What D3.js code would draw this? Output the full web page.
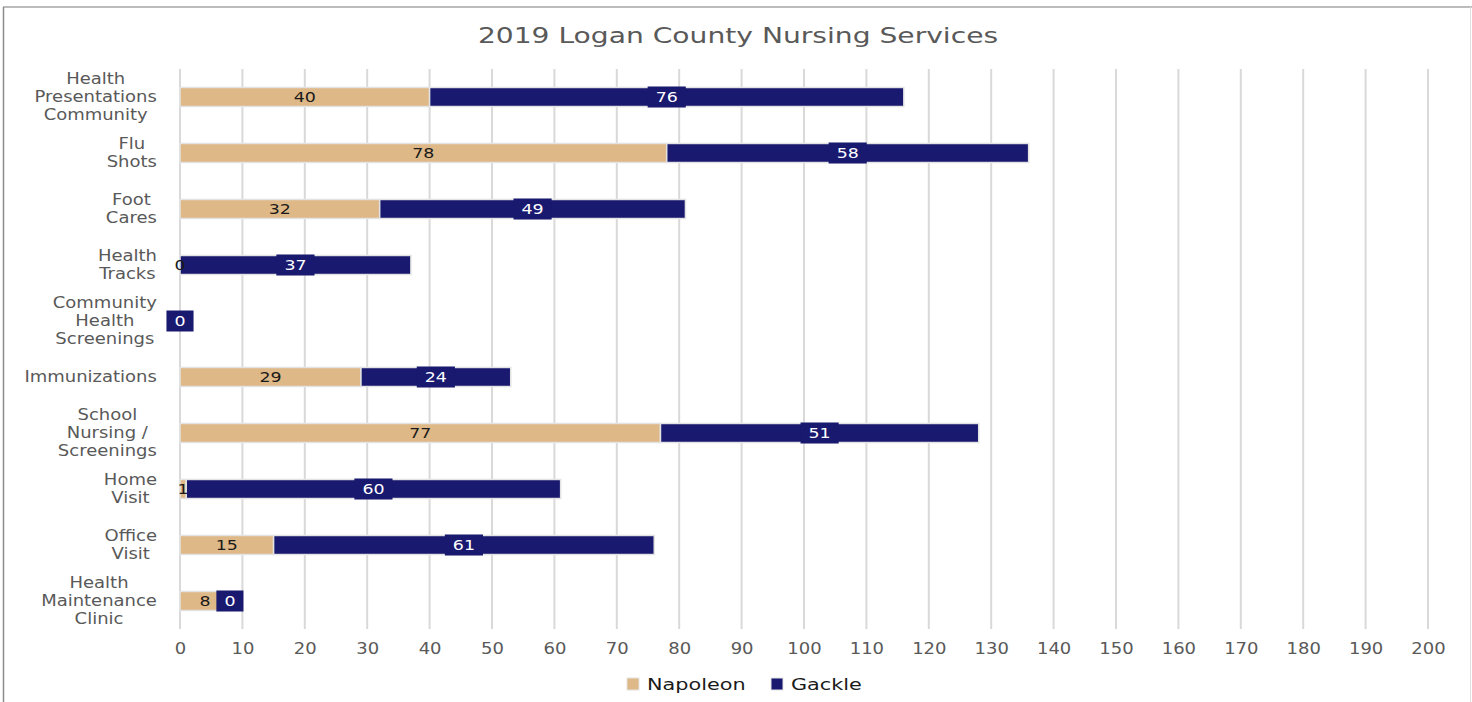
<!DOCTYPE html>
<html lang="en">
<head>
<meta charset="utf-8">
<script src="https://cdn.jsdelivr.net/npm/d3@7"></script>
<style>
  body { margin: 0; background: #fff; }
  text { font-family: "DejaVu Sans", sans-serif; }
</style>
</head>
<body>
<div id="my_dataviz"></div>
<script>
// categories, top to bottom
const categories = [
    "Health|Presentations|Community",
    "Flu|Shots",
    "Foot|Cares",
    "Health|Tracks",
    "Community|Health|Screenings",
    "Immunizations",
    "School|Nursing /|Screenings",
    "Home|Visit",
    "Office|Visit",
    "Health|Maintenance|Clinic"
];
const napoleon = [40, 78, 32, 0, 0, 29, 77, 1, 15, 8];
const gackle = [76, 58, 49, 37, 0, 24, 51, 60, 61, 0];
const xTicks = d3.range(0, 201, 10);
const seriesNames = ["Napoleon", "Gackle"];
const colors = ["#DEB887", "#191970"];

const W = 1472, H = 702;
const plot = { left: 180, right: 1428, top: 69, bottom: 629 };

// the original picture is stretched sideways, so text gets a horizontal scale
function stretch(sel, sx) {
    sel.each(function () {
        const t = d3.select(this);
        const px = +t.attr("x") || 0, py = +t.attr("y") || 0;
        t.attr("x", 0).attr("y", 0)
            .attr("transform", `translate(${px},${py}) scale(${sx},1)`);
    });
}

const svg = d3.select("#my_dataviz")
    .append("svg")
    .attr("width", W)
    .attr("height", H);

// frame
svg.append("line").attr("x1", 3).attr("x2", W).attr("y1", 7).attr("y2", 7)
    .attr("stroke", "#a6a6a6").attr("stroke-width", 1.5);
svg.append("line").attr("x1", 3.5).attr("x2", 3.5).attr("y1", 7).attr("y2", H)
    .attr("stroke", "#8c8c8c").attr("stroke-width", 1.5);
svg.append("line").attr("x1", 1470.5).attr("x2", 1470.5).attr("y1", 7).attr("y2", H)
    .attr("stroke", "#e0e0e0").attr("stroke-width", 1);

const x = d3.scaleLinear().domain([0, 200]).range([plot.left, plot.right]);
const y = d3.scaleBand().domain(d3.range(categories.length))
    .range([plot.top, plot.bottom]).paddingInner(0.66).paddingOuter(0.33);

// gridlines
svg.append("g")
    .selectAll("line")
    .data(xTicks)
    .join("line")
    .attr("x1", d => x(d)).attr("x2", d => x(d))
    .attr("y1", plot.top).attr("y2", plot.bottom)
    .attr("stroke", "#d9d9d9")
    .attr("stroke-width", 2);

// x axis labels
const xAxis = svg.append("g")
    .attr("transform", `translate(0,${plot.bottom})`)
    .call(d3.axisBottom(x).tickValues(xTicks).tickSize(0).tickPadding(14));
xAxis.select(".domain").remove();
xAxis.selectAll("text")
    .style("font-family", "DejaVu Sans")
    .style("font-size", "15px")
    .attr("fill", "#595959")
    .attr("transform", "scale(1.2,1)");

// category labels
const catScale = 1.2;
const catG = svg.append("g");
categories.forEach((c, i) => {
    const lines = c.split("|");
    const t = catG.append("text")
        .attr("text-anchor", "middle")
        .style("font-size", "15px")
        .attr("fill", "#595959");
    lines.forEach((ln, j) => {
        t.append("tspan").text(ln).attr("x", 0)
            .attr("y", y(i) + y.bandwidth() / 2 + 5 + (j - (lines.length - 1) / 2) * 18);
    });
    const w = t.node().getBBox().width * catScale;
    t.attr("transform", `translate(${157 - w / 2},0) scale(${catScale},1)`);
});

// stacked bars
const rows = categories.map((c, i) => ({ i, n: napoleon[i], g: gackle[i] }));
const barG = svg.append("g");
barG.selectAll("rect.nap")
    .data(rows)
    .join("rect")
    .attr("class", "nap")
    .attr("x", d => x(0))
    .attr("y", d => y(d.i))
    .attr("width", d => x(d.n) - x(0))
    .attr("height", y.bandwidth())
    .attr("fill", colors[0])
    .attr("stroke", "#e3e3e3")
    .attr("stroke-width", 1.5);
barG.selectAll("rect.gac")
    .data(rows.filter(d => d.g > 0))
    .join("rect")
    .attr("class", "gac")
    .attr("x", d => x(d.n))
    .attr("y", d => y(d.i))
    .attr("width", d => x(d.n + d.g) - x(d.n))
    .attr("height", y.bandwidth())
    .attr("fill", colors[1])
    .attr("stroke", "#e3e3e3")
    .attr("stroke-width", 1.5);

// Napoleon labels
barG.selectAll("text.nap")
    .data(rows)
    .join("text")
    .attr("class", "nap")
    .attr("x", d => x(d.n / 2))
    .attr("y", d => y(d.i) + y.bandwidth() / 2 + 5)
    .attr("text-anchor", "middle")
    .style("font-size", "14.5px")
    .attr("fill", "#1a1a1a")
    .text(d => d.n)
    .call(stretch, 1.2);

// Gackle labels with boxes
rows.forEach(d => {
    const cx = x(d.n + d.g / 2);
    const cy = y(d.i) + y.bandwidth() / 2;
    const g = barG.append("g");
    const box = g.append("rect").attr("fill", colors[1]);
    const t = g.append("text")
        .attr("x", cx).attr("y", cy + 5)
        .attr("text-anchor", "middle")
        .style("font-size", "14.5px")
        .attr("fill", "#ffffff")
        .text(d.g);
    const w = t.node().getComputedTextLength() * 1.2 + 16;
    t.call(stretch, 1.2);
    box.attr("x", cx - w / 2).attr("y", cy - 10.5).attr("width", w).attr("height", 21);
});

// title
svg.append("text")
    .attr("x", 738).attr("y", 43)
    .attr("text-anchor", "middle")
    .style("font-size", "22px")
    .attr("fill", "#595959")
    .text("2019 Logan County Nursing Services")
    .call(stretch, 1.28);

// legend
const legend = svg.append("g");
const legX = [627, 771];
seriesNames.forEach((s, i) => {
    legend.append("rect")
        .attr("x", legX[i]).attr("y", 678).attr("width", 12).attr("height", 12)
        .attr("fill", colors[i])
        .attr("stroke", "#e3e3e3");
    legend.append("text")
        .attr("x", legX[i] + 20).attr("y", 690)
        .style("font-size", "16px")
        .attr("fill", "#1a1a1a")
        .text(s)
        .call(stretch, 1.3);
});
</script>
</body>
</html>
